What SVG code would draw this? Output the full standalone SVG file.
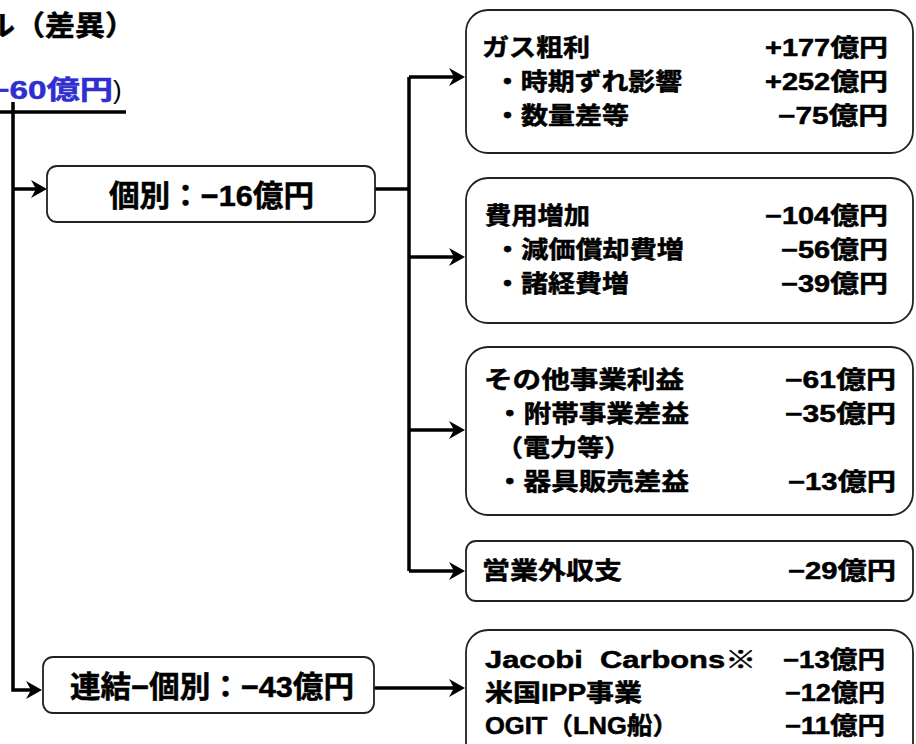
<svg xmlns="http://www.w3.org/2000/svg" width="916" height="744" viewBox="0 0 916 744">
<style>
.t{font-family:"Liberation Sans","Noto Sans CJK JP",sans-serif;font-weight:bold;font-size:24px;fill:#000;stroke:#000;stroke-width:0.5}
.big{font-size:30px}
.v{text-anchor:end}
.box{fill:#fff;stroke:#222;stroke-width:1.8}
.c{fill:none;stroke:#000;stroke-width:3.5}
.blue{fill:#2f2fd0;stroke:#2f2fd0}
</style>
<defs>
<marker id="ah" markerUnits="userSpaceOnUse" markerWidth="18" markerHeight="20" refX="10" refY="9" orient="auto">
<path d="M0,0 L16,9 L0,18 L5,9 Z" fill="#000"/>
</marker>
</defs>
<rect width="916" height="744" fill="#fff"/>

<g id="title">
<text class="t" x="-15" y="36" style="font-size:28px" textLength="150" lengthAdjust="spacingAndGlyphs">ル（差異）</text>
<text class="t blue" x="-10" y="99" style="font-size:26px" textLength="123" lengthAdjust="spacingAndGlyphs">−60億円</text>
<text class="t" x="113" y="99" style="font-size:26px;font-weight:normal;stroke:none">)</text>
</g>

<g id="connectors">
<path class="c" d="M0,112 H126"/>
<path class="c" d="M13,102 V690 H36" marker-end="url(#ah)"/>
<path class="c" d="M13,189 H41" marker-end="url(#ah)"/>
<path class="c" d="M375,189 H409"/>
<path class="c" d="M409,77 V571"/>
<path class="c" d="M409,77 H459" marker-end="url(#ah)"/>
<path class="c" d="M409,257 H459" marker-end="url(#ah)"/>
<path class="c" d="M409,430 H459" marker-end="url(#ah)"/>
<path class="c" d="M409,571 H459" marker-end="url(#ah)"/>
<path class="c" d="M374,688 H459" marker-end="url(#ah)"/>
</g>

<g id="kobetsu">
<rect class="box" x="47" y="166" width="328" height="56" rx="10"/>
<text class="t big" x="109" y="206" textLength="205" lengthAdjust="spacingAndGlyphs">個別：−16億円</text>
</g>

<g id="renketsu">
<rect class="box" x="43" y="657" width="331" height="56" rx="10"/>
<text class="t big" x="70" y="697" textLength="284" lengthAdjust="spacingAndGlyphs">連結−個別：−43億円</text>
</g>

<g id="gas">
<rect class="box" x="466" y="10" width="447" height="143" rx="22"/>
<text class="t" x="482" y="56" textLength="108" lengthAdjust="spacingAndGlyphs">ガス粗利</text>
<text class="t" x="494" y="90" textLength="188" lengthAdjust="spacingAndGlyphs">・時期ずれ影響</text>
<text class="t" x="494" y="124" textLength="135" lengthAdjust="spacingAndGlyphs">・数量差等</text>
<text class="t v" x="888" y="56" textLength="123" lengthAdjust="spacingAndGlyphs">+177億円</text>
<text class="t v" x="888" y="90" textLength="123" lengthAdjust="spacingAndGlyphs">+252億円</text>
<text class="t v" x="888" y="124" textLength="110" lengthAdjust="spacingAndGlyphs">−75億円</text>
</g>

<g id="cost">
<rect class="box" x="466" y="178" width="447" height="145" rx="22"/>
<text class="t" x="485" y="224" textLength="105" lengthAdjust="spacingAndGlyphs">費用増加</text>
<text class="t" x="494" y="258" textLength="190" lengthAdjust="spacingAndGlyphs">・減価償却費増</text>
<text class="t" x="494" y="292" textLength="135" lengthAdjust="spacingAndGlyphs">・諸経費増</text>
<text class="t v" x="888" y="224" textLength="123" lengthAdjust="spacingAndGlyphs">−104億円</text>
<text class="t v" x="888" y="258" textLength="107" lengthAdjust="spacingAndGlyphs">−56億円</text>
<text class="t v" x="888" y="292" textLength="107" lengthAdjust="spacingAndGlyphs">−39億円</text>
</g>

<g id="other">
<rect class="box" x="466" y="347" width="447" height="168" rx="22"/>
<text class="t" x="484" y="388" textLength="200" lengthAdjust="spacingAndGlyphs">その他事業利益</text>
<text class="t" x="496" y="422" textLength="193" lengthAdjust="spacingAndGlyphs">・附帯事業差益</text>
<text class="t" x="496" y="456" textLength="135" lengthAdjust="spacingAndGlyphs">（電力等）</text>
<text class="t" x="496" y="490" textLength="193" lengthAdjust="spacingAndGlyphs">・器具販売差益</text>
<text class="t v" x="896" y="388" textLength="111" lengthAdjust="spacingAndGlyphs">−61億円</text>
<text class="t v" x="896" y="422" textLength="111" lengthAdjust="spacingAndGlyphs">−35億円</text>
<text class="t v" x="896" y="490" textLength="108" lengthAdjust="spacingAndGlyphs">−13億円</text>
</g>

<g id="nonop">
<rect class="box" x="466" y="541" width="447" height="60" rx="10"/>
<text class="t" x="482" y="579" textLength="140" lengthAdjust="spacingAndGlyphs">営業外収支</text>
<text class="t v" x="896" y="579" textLength="108" lengthAdjust="spacingAndGlyphs">−29億円</text>
</g>

<g id="consol">
<rect class="box" x="466" y="630" width="447" height="140" rx="22"/>
<text class="t" x="485" y="668" textLength="271" lengthAdjust="spacingAndGlyphs">Jacobi&#160; Carbons※</text>
<text class="t" x="485" y="701" textLength="157" lengthAdjust="spacingAndGlyphs">米国IPP事業</text>
<text class="t" x="485" y="734" textLength="193" lengthAdjust="spacingAndGlyphs">OGIT（LNG船）</text>
<text class="t v" x="885" y="668" textLength="102" lengthAdjust="spacingAndGlyphs">−13億円</text>
<text class="t v" x="885" y="701" textLength="100" lengthAdjust="spacingAndGlyphs">−12億円</text>
<text class="t v" x="885" y="734" textLength="100" lengthAdjust="spacingAndGlyphs">−11億円</text>
</g>
</svg>
